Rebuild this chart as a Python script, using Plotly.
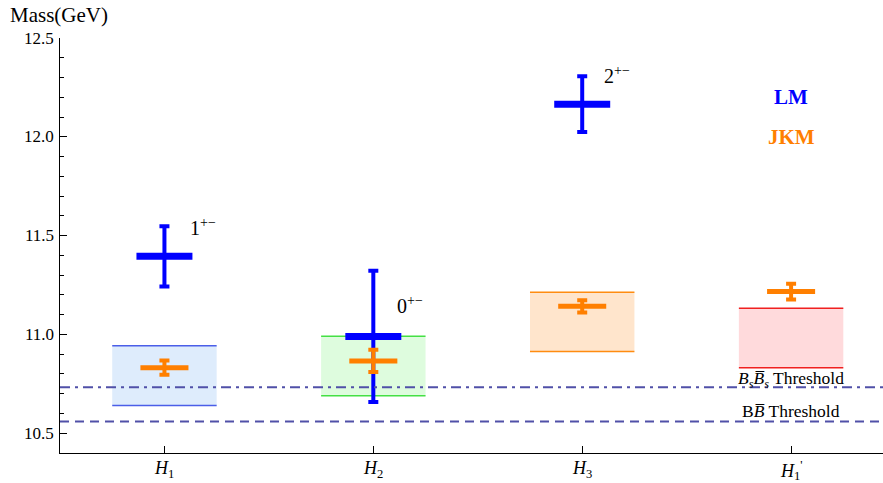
import plotly.graph_objects as go

# ---- data ----
categories = ["H1", "H2", "H3", "H1p"]
cat_pos = [1, 2, 3, 4]
tick_text = ["<i>H</i><sub>1</sub>", "<i>H</i><sub>2</sub>", "<i>H</i><sub>3</sub>",
             "<i>H</i><sub>1</sub><sup>'</sup>"]
y_tick_vals = [10.5, 11.0, 11.5, 12.0, 12.5]
y_tick_text = ["10.5", "11.0", "11.5", "12.0", "12.5"]

lm_pos = [1, 2, 3]
lm_mass = [11.395, 10.99, 12.165]
lm_err = [0.152, 0.332, 0.141]
lm_jpc = ["1<sup>+−</sup>", "0<sup>+−</sup>", "2<sup>+−</sup>"]

jkm_mass = [10.832, 10.866, 11.142, 11.217]
jkm_err = [0.036, 0.056, 0.031, 0.040]

box_lo = [10.640, 10.690, 10.914, 10.831]
box_hi = [10.943, 10.991, 11.213, 11.132]
box_fill = ["rgba(222,236,252,1)", "rgba(222,252,222,1)", "rgba(255,229,204,1)", "rgba(255,218,220,1)"]
box_line = ["#4a5ee8", "#44e044", "#ff8c10", "#f02020"]

bb_threshold = 10.559
bsbs_threshold = 10.733

BOX_HALF = 0.25
LM_HALF = 0.134
JKM_HALF = 0.115

LM_COLOR = "#0000ff"
JKM_COLOR = "#ff7f00"
THR_COLOR = "#5050a8"
FONT = "Liberation Serif"

fig = go.Figure()

# boxes
for p, lo, hi, fc, lc in zip(cat_pos, box_lo, box_hi, box_fill, box_line):
    fig.add_shape(type="rect", xref="x", yref="y", x0=p - BOX_HALF, x1=p + BOX_HALF,
                  y0=lo, y1=hi, fillcolor=fc, line=dict(width=0), layer="below")
    for yy in (lo, hi):
        fig.add_shape(type="line", xref="x", yref="y", x0=p - BOX_HALF, x1=p + BOX_HALF,
                      y0=yy, y1=yy, line=dict(color=lc, width=1.5), layer="below")

# thresholds
fig.add_hline(y=bsbs_threshold, line=dict(color=THR_COLOR, width=2, dash="10px,5px,3px,5px"))
fig.add_hline(y=bb_threshold, line=dict(color=THR_COLOR, width=2, dash="9px,6px"))

# LM crosses
fig.add_trace(go.Scatter(
    x=lm_pos, y=lm_mass, mode="markers", marker=dict(size=1, color=LM_COLOR, opacity=0),
    error_y=dict(type="data", array=lm_err, color=LM_COLOR, thickness=4, width=5),
    error_x=dict(type="data", array=[LM_HALF] * len(lm_pos), color=LM_COLOR, thickness=7, width=0),
    showlegend=False, hoverinfo="skip"))

# JKM crosses
fig.add_trace(go.Scatter(
    x=cat_pos, y=jkm_mass, mode="markers", marker=dict(size=1, color=JKM_COLOR, opacity=0),
    error_y=dict(type="data", array=jkm_err, color=JKM_COLOR, thickness=4, width=5),
    error_x=dict(type="data", array=[JKM_HALF] * len(cat_pos), color=JKM_COLOR, thickness=5, width=0),
    showlegend=False, hoverinfo="skip"))

annotations = []
# J^PC labels
jpc_dx = [0.115, 0.104, 0.097]
jpc_dy = [0.15, 0.16, 0.15]
for p, m, e, t, dx, dy in zip(lm_pos, lm_mass, lm_err, lm_jpc, jpc_dx, jpc_dy):
    annotations.append(dict(x=p + dx, y=m + dy, text=t, showarrow=False, xanchor="left",
                            yanchor="middle", font=dict(family=FONT, size=20, color="black")))

# legend-like labels
annotations.append(dict(x=4, y=12.2, text="<b>LM</b>", showarrow=False,
                        font=dict(family=FONT, size=21, color=LM_COLOR)))
annotations.append(dict(x=4, y=12.0, text="<b>JKM</b>", showarrow=False,
                        font=dict(family=FONT, size=21, color=JKM_COLOR)))

# threshold labels
annotations.append(dict(x=4, y=10.772,
                        text="<i>B</i><sub><i>s</i></sub><i>B̅</i><sub><i>s</i></sub> Threshold",
                        showarrow=False, font=dict(family=FONT, size=17.5, color="black")))
annotations.append(dict(x=4, y=10.615, text="B<i>B̅</i> Threshold",
                        showarrow=False, font=dict(family=FONT, size=17.5, color="black")))

# axis title
annotations.append(dict(xref="paper", yref="paper", x=0, y=1, xanchor="left", yanchor="bottom",
                        xshift=-52, yshift=9, text="Mass(GeV)", showarrow=False,
                        font=dict(family=FONT, size=21, color="black")))

# y tick labels (serif) as annotations
for v, t in zip(y_tick_vals, y_tick_text):
    annotations.append(dict(xref="paper", yref="y", x=0, y=v, xanchor="right", yanchor="middle",
                            xshift=-4, text=t, showarrow=False,
                            font=dict(family=FONT, size=17, color="black")))
# x tick labels (serif) as annotations
for p, t in zip(cat_pos, tick_text):
    annotations.append(dict(xref="x", yref="paper", x=p, y=0, xanchor="center", yanchor="top",
                            yshift=-3, text=t, showarrow=False,
                            font=dict(family=FONT, size=18, color="black")))

fig.update_layout(
    width=883, height=483,
    margin=dict(l=60, r=0, t=38, b=30),
    plot_bgcolor="white", paper_bgcolor="white",
    font=dict(family=FONT, size=18, color="black"),
    annotations=annotations,
    showlegend=False,
)
fig.update_xaxes(range=[0.5, 4.44], tickvals=cat_pos, showticklabels=False,
                 showline=True, linecolor="black", linewidth=1.2,
                 ticks="inside", ticklen=7, tickcolor="black", showgrid=False, zeroline=False)
fig.update_yaxes(range=[10.4, 12.5], tickvals=y_tick_vals, showticklabels=False,
                 showline=True, linecolor="black", linewidth=1.2,
                 ticks="inside", ticklen=7, tickcolor="black", showgrid=False, zeroline=False,
                 minor=dict(dtick=0.1, tick0=10.5, ticks="inside", ticklen=4, tickcolor="black",
                            showgrid=False))

fig.write_html("out.html", config={"displayModeBar": False},
               post_script="document.body.style.margin='0';document.body.style.overflow='hidden';")
